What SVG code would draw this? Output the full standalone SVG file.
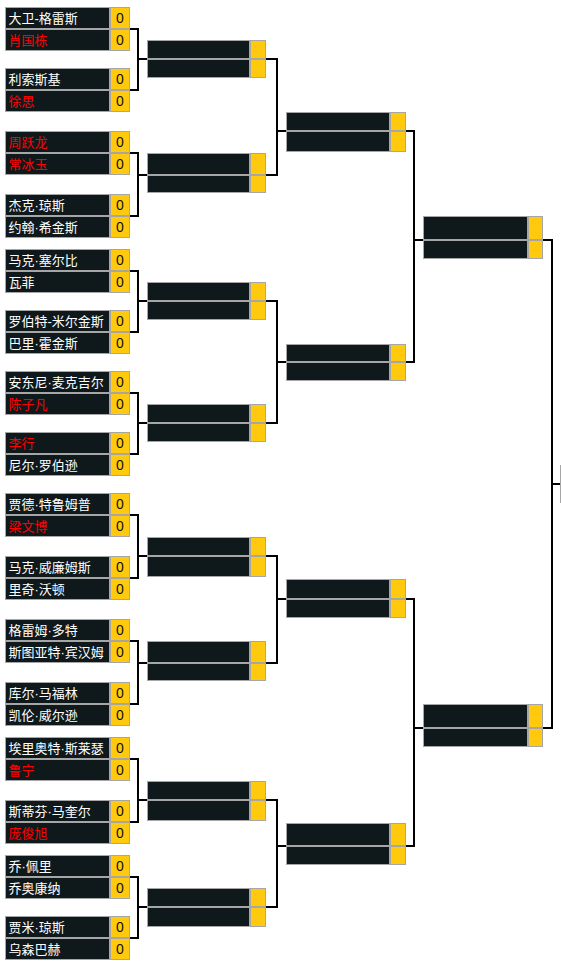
<svg xmlns="http://www.w3.org/2000/svg" width="561" height="966" viewBox="0 0 561 966">
<style>
.n{fill:#0f191c;stroke:#a6a6a6;stroke-width:1}
.s{fill:#ffc90e;stroke:#a6a6a6;stroke-width:1}
.t{font-family:"Liberation Sans","Noto Sans CJK SC",sans-serif;font-size:13px;fill:#ffffff}
.r{fill:#ff0000}
.z{font-family:"Liberation Sans","Noto Sans CJK SC",sans-serif;font-size:14px;fill:#111111;text-anchor:middle}
.c{fill:none;stroke:#000000;stroke-width:2}
</style>
<rect x="0" y="0" width="561" height="966" fill="#ffffff"/>
<defs>
<g id="m">
<rect class="n" x="5.5" y="0.5" width="104" height="21"/><rect class="s" x="110.5" y="0.5" width="19" height="21"/><text class="z" x="120" y="16">0</text>
<rect class="n" x="5.5" y="22.5" width="104" height="21"/><rect class="s" x="110.5" y="22.5" width="19" height="21"/><text class="z" x="120" y="38">0</text>
</g>
</defs>
<g id="round1">
<g id="m1" transform="translate(0,7)"><use href="#m"/><text class="t" x="8.5" y="16">大卫-格雷斯</text><text class="t r" x="8.5" y="38">肖国栋</text></g>
<g id="m2" transform="translate(0,68)"><use href="#m"/><text class="t" x="8.5" y="16">利索斯基</text><text class="t r" x="8.5" y="38">徐思</text></g>
<g id="m3" transform="translate(0,131)"><use href="#m"/><text class="t r" x="8.5" y="16">周跃龙</text><text class="t r" x="8.5" y="38">常冰玉</text></g>
<g id="m4" transform="translate(0,194)"><use href="#m"/><text class="t" x="8.5" y="16">杰克·琼斯</text><text class="t" x="8.5" y="38">约翰·希金斯</text></g>
<g id="m5" transform="translate(0,249)"><use href="#m"/><text class="t" x="8.5" y="16">马克·塞尔比</text><text class="t" x="8.5" y="38">瓦菲</text></g>
<g id="m6" transform="translate(0,310)"><use href="#m"/><text class="t" x="8.5" y="16">罗伯特-米尔金斯</text><text class="t" x="8.5" y="38">巴里·霍金斯</text></g>
<g id="m7" transform="translate(0,371)"><use href="#m"/><text class="t" x="8.5" y="16">安东尼·麦克吉尔</text><text class="t r" x="8.5" y="38">陈子凡</text></g>
<g id="m8" transform="translate(0,432)"><use href="#m"/><text class="t r" x="8.5" y="16">李行</text><text class="t" x="8.5" y="38">尼尔·罗伯逊</text></g>
<g id="m9" transform="translate(0,493)"><use href="#m"/><text class="t" x="8.5" y="16">贾德·特鲁姆普</text><text class="t r" x="8.5" y="38">梁文博</text></g>
<g id="m10" transform="translate(0,556)"><use href="#m"/><text class="t" x="8.5" y="16">马克·威廉姆斯</text><text class="t" x="8.5" y="38">里奇·沃顿</text></g>
<g id="m11" transform="translate(0,619)"><use href="#m"/><text class="t" x="8.5" y="16">格雷姆·多特</text><text class="t" x="8.5" y="38">斯图亚特·宾汉姆</text></g>
<g id="m12" transform="translate(0,682)"><use href="#m"/><text class="t" x="8.5" y="16">库尔·马福林</text><text class="t" x="8.5" y="38">凯伦·威尔逊</text></g>
<g id="m13" transform="translate(0,737)"><use href="#m"/><text class="t" x="8.5" y="16">埃里奥特·斯莱瑟</text><text class="t r" x="8.5" y="38">鲁宁</text></g>
<g id="m14" transform="translate(0,800)"><use href="#m"/><text class="t" x="8.5" y="16">斯蒂芬·马奎尔</text><text class="t r" x="8.5" y="38">庞俊旭</text></g>
<g id="m15" transform="translate(0,855)"><use href="#m"/><text class="t" x="8.5" y="16">乔·佩里</text><text class="t" x="8.5" y="38">乔奥康纳</text></g>
<g id="m16" transform="translate(0,916)"><use href="#m"/><text class="t" x="8.5" y="16">贾米·琼斯</text><text class="t" x="8.5" y="38">乌森巴赫</text></g>
</g>
<g id="round2">
<g id="r2-1"><rect class="n" x="147.5" y="40.5" width="102" height="18"/><rect class="s" x="250.5" y="40.5" width="15" height="18"/><rect class="n" x="147.5" y="59.5" width="102" height="18"/><rect class="s" x="250.5" y="59.5" width="15" height="18"/></g>
<g id="r2-2"><rect class="n" x="147.5" y="153.5" width="102" height="21"/><rect class="s" x="250.5" y="153.5" width="15" height="21"/><rect class="n" x="147.5" y="175.5" width="102" height="17"/><rect class="s" x="250.5" y="175.5" width="15" height="17"/></g>
<g id="r2-3"><rect class="n" x="147.5" y="282.5" width="102" height="18"/><rect class="s" x="250.5" y="282.5" width="15" height="18"/><rect class="n" x="147.5" y="301.5" width="102" height="18"/><rect class="s" x="250.5" y="301.5" width="15" height="18"/></g>
<g id="r2-4"><rect class="n" x="147.5" y="404.5" width="102" height="18"/><rect class="s" x="250.5" y="404.5" width="15" height="18"/><rect class="n" x="147.5" y="423.5" width="102" height="18"/><rect class="s" x="250.5" y="423.5" width="15" height="18"/></g>
<g id="r2-5"><rect class="n" x="147.5" y="537.5" width="102" height="18"/><rect class="s" x="250.5" y="537.5" width="15" height="18"/><rect class="n" x="147.5" y="556.5" width="102" height="20"/><rect class="s" x="250.5" y="556.5" width="15" height="20"/></g>
<g id="r2-6"><rect class="n" x="147.5" y="641.5" width="102" height="21"/><rect class="s" x="250.5" y="641.5" width="15" height="21"/><rect class="n" x="147.5" y="663.5" width="102" height="17"/><rect class="s" x="250.5" y="663.5" width="15" height="17"/></g>
<g id="r2-7"><rect class="n" x="147.5" y="781.5" width="102" height="18"/><rect class="s" x="250.5" y="781.5" width="15" height="18"/><rect class="n" x="147.5" y="800.5" width="102" height="20"/><rect class="s" x="250.5" y="800.5" width="15" height="20"/></g>
<g id="r2-8"><rect class="n" x="147.5" y="888.5" width="102" height="18"/><rect class="s" x="250.5" y="888.5" width="15" height="18"/><rect class="n" x="147.5" y="907.5" width="102" height="19"/><rect class="s" x="250.5" y="907.5" width="15" height="19"/></g>
</g>
<g id="round3">
<g id="r3-1"><rect class="n" x="286.5" y="112.5" width="103" height="18"/><rect class="s" x="390.5" y="112.5" width="15" height="18"/><rect class="n" x="286.5" y="131.5" width="103" height="20"/><rect class="s" x="390.5" y="131.5" width="15" height="20"/></g>
<g id="r3-2"><rect class="n" x="286.5" y="344.5" width="103" height="17"/><rect class="s" x="390.5" y="344.5" width="15" height="17"/><rect class="n" x="286.5" y="362.5" width="103" height="18"/><rect class="s" x="390.5" y="362.5" width="15" height="18"/></g>
<g id="r3-3"><rect class="n" x="286.5" y="579.5" width="103" height="19"/><rect class="s" x="390.5" y="579.5" width="15" height="19"/><rect class="n" x="286.5" y="599.5" width="103" height="18"/><rect class="s" x="390.5" y="599.5" width="15" height="18"/></g>
<g id="r3-4"><rect class="n" x="286.5" y="823.5" width="103" height="22"/><rect class="s" x="390.5" y="823.5" width="15" height="22"/><rect class="n" x="286.5" y="846.5" width="103" height="18"/><rect class="s" x="390.5" y="846.5" width="15" height="18"/></g>
</g>
<g id="round4">
<g id="r4-1"><rect class="n" x="423.5" y="216.5" width="104" height="23"/><rect class="s" x="528.5" y="216.5" width="14" height="23"/><rect class="n" x="423.5" y="240.5" width="104" height="18"/><rect class="s" x="528.5" y="240.5" width="14" height="18"/></g>
<g id="r4-2"><rect class="n" x="423.5" y="704.5" width="104" height="23"/><rect class="s" x="528.5" y="704.5" width="14" height="23"/><rect class="n" x="423.5" y="728.5" width="104" height="18"/><rect class="s" x="528.5" y="728.5" width="14" height="18"/></g>
</g>
<g id="final"><rect class="n" x="560.5" y="465.5" width="104" height="18"/><rect class="n" x="560.5" y="484.5" width="104" height="18"/></g>
<g id="connectors">
<path class="c" d="M130 29H138V90H130M138 59H147"/>
<path class="c" d="M130 153H138V216H130M138 175H147"/>
<path class="c" d="M130 271H138V332H130M138 301H147"/>
<path class="c" d="M130 393H138V454H130M138 423H147"/>
<path class="c" d="M130 515H138V578H130M138 556H147"/>
<path class="c" d="M130 641H138V704H130M138 663H147"/>
<path class="c" d="M130 759H138V822H130M138 800H147"/>
<path class="c" d="M130 877H138V938H130M138 907H147"/>
<path class="c" d="M266 59H277V175H266M277 131H286"/>
<path class="c" d="M266 301H277V423H266M277 362H286"/>
<path class="c" d="M266 556H277V663H266M277 599H286"/>
<path class="c" d="M266 800H277V907H266M277 846H286"/>
<path class="c" d="M406 131H414V362H406M414 240H423"/>
<path class="c" d="M406 599H414V846H406M414 728H423"/>
<path class="c" d="M543 240H552V728H543M552 484H560"/>
</g>
</svg>
